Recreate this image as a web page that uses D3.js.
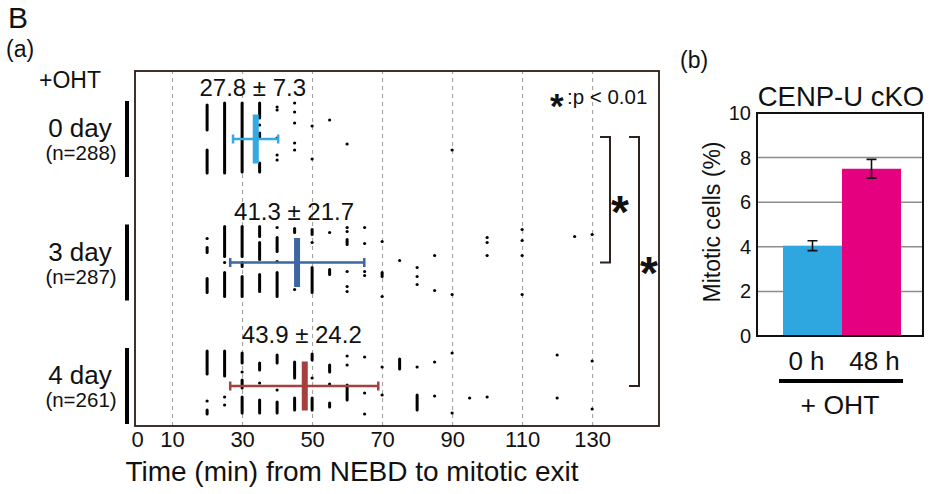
<!DOCTYPE html>
<html>
<head>
<meta charset="utf-8">
<script src="https://cdn.jsdelivr.net/npm/d3@7"></script>
<style>
  body { margin: 0; background: #fff; }
  svg text { font-family: "Liberation Sans", Arial, sans-serif; fill: #111; }
</style>
</head>
<body>
<div id="chart"></div>
<script>
// ---- data ----
var rows = ["0 day", "3 day", "4 day"];
var rowCounts = ["(n=288)", "(n=287)", "(n=261)"];
var statLabels = ["27.8 \u00b1 7.3", "41.3 \u00b1 21.7", "43.9 \u00b1 24.2"];
var meanTime = [33.9, 45.7, 47.9];
var lowTime = [27.4, 26.6, 26.6];
var highTime = [40.3, 64.9, 68.9];
var rowColors = ["#35a9e1", "#3e66a0", "#a5403f"];
var timeTicks = [0, 10, 30, 50, 70, 90, 110, 130];
var gridTimes = [10, 30, 50, 70, 90, 110, 130];

// stacks of overlapping dots: [time, offsetFrom, offsetTo]
var runs0 = [[20, -34, -9], [20, 11, 34], [25, -36, 34], [30, -36, 33],
  [35, -36, -21], [35, -6, -2], [35, 24, 33]];
var runs3 = [[20, -15, -10], [20, 16, 30], [25, -36, -6], [25, 10, 34], [30, -36, -6],
  [30, 0, 4], [30, 14, 34], [35, -36, -26], [35, -20, -3], [35, 12, 29], [40, -25, -11],
  [40, 10, 34], [45, -34, -30], [50, -33, -28], [50, 5, 30], [55, 7, 12], [60, -23, -18],
  [70, 10, 14]];
var runs4 = [[20, -35, -12], [20, 24, 28], [25, -35, -10], [30, -33, -23], [30, -6, 2],
  [30, 11, 27], [35, -23, -16], [35, 14, 27], [40, -31, -23], [40, 16, 27], [45, -24, -8],
  [45, 12, 24], [50, -32, -26], [50, 12, 24], [55, -21, -14], [55, 17, 21], [60, -1, 14],
  [75, -27, -17], [80, 9, 24]];
// single cells: [time, offset]
var dots0 = [[35, -14], [40, -32], [40, -29], [40, -1], [40, 16], [40, 21], [45, -36],
  [45, -27], [45, -16], [45, 4], [45, 11], [50, -13], [50, 20], [55, -19], [60, 5], [90, 11]];
var dots3 = [[20, -24], [25, 0], [40, -35], [40, -1], [45, 27], [50, -20], [55, -30],
  [60, -35], [60, -31], [60, 9], [60, 24], [60, 29], [65, -35], [65, -19], [65, 9], [65, 13],
  [70, -21], [70, 34], [75, -2], [80, 5], [80, 14], [80, 22], [85, -7], [85, 28], [90, 32],
  [100, -25], [100, -20], [100, -7], [110, -33], [110, -22], [110, -7], [110, 32],
  [125, -26], [130, -28]];
var dots4 = [[20, 15], [25, 11], [25, 19], [30, -14], [35, -3], [40, 4], [50, -8], [55, -2],
  [60, -30], [60, -21], [65, -29], [65, 7], [65, 28], [70, -19], [70, 9], [80, -19],
  [85, -24], [85, 10], [90, -33], [90, 27], [95, 12], [100, 11], [120, -31], [120, 12],
  [130, -25], [130, 23]];
var allRuns = [runs0, runs3, runs4];
var allDots = [dots0, dots3, dots4];

// panel (b)
var barGroups = ["0 h", "48 h"];
var barValues = [4.05, 7.5];
var barErrors = [0.22, 0.42];
var barColors = ["#2ea7e0", "#e4007e"];
var pctTicks = [0, 2, 4, 6, 8, 10];

var svg = d3.select("#chart").append("svg")
    .attr("width", 932)
    .attr("height", 494);

// ---- panel (a) ----
var x = d3.scaleLinear().domain([-0.6, 149.1]).range([135, 659]);
var yRow = d3.scalePoint().domain(rows).range([139, 386]);
var jitter = d3.scaleLinear().domain([-36, 36]).range([-36, 36]);
var plotTop = 71, plotBottom = 426;

svg.append("text").attr("x", 8).attr("y", 28).style("font-size", "30px").text("B");
svg.append("text").attr("x", 6).attr("y", 57).style("font-size", "23px").text("(a)");
svg.append("text").attr("x", 39).attr("y", 88).style("font-size", "23px").text("+OHT");

// gridlines
svg.append("g")
    .attr("transform", "translate(0," + plotBottom + ")")
    .call(d3.axisBottom(x).tickValues(gridTimes).tickSize(-(plotBottom - plotTop)).tickFormat(""))
    .call(function (g) { g.select(".domain").remove(); })
    .selectAll("line")
    .attr("stroke", "#9a9a9a")
    .attr("stroke-dasharray", "4,4");

// tick labels
svg.append("g")
    .attr("transform", "translate(0," + plotBottom + ")")
    .call(d3.axisBottom(x).tickValues(timeTicks).tickSize(0).tickPadding(5))
    .call(function (g) { g.select(".domain").remove(); })
    .selectAll("text")
    .style("font-size", "22px")
    .attr("fill", "#111");

svg.append("text")
    .attr("x", 352)
    .attr("y", 481)
    .style("text-anchor", "middle")
    .style("font-size", "28px")
    .text("Time (min) from NEBD to mitotic exit");

rows.forEach(function (r, i) {
    var cy = yRow(r);
    var g = svg.append("g");

    // row label + bar at left
    g.append("rect").attr("x", 125).attr("y", cy - 38).attr("width", 4).attr("height", 76).attr("fill", "#000");
    g.append("text").attr("x", 80).attr("y", cy - 2).style("text-anchor", "middle")
        .style("font-size", "26px").text(r);
    g.append("text").attr("x", 81).attr("y", cy + 21).style("text-anchor", "middle")
        .style("font-size", "20.5px").text(rowCounts[i]);

    // cells
    g.selectAll(".run")
        .data(allRuns[i])
        .enter().append("line")
        .attr("x1", function (d) { return x(d[0]); })
        .attr("x2", function (d) { return x(d[0]); })
        .attr("y1", function (d) { return cy + jitter(d[1]); })
        .attr("y2", function (d) { return cy + jitter(d[2]); })
        .attr("stroke", "#000")
        .attr("stroke-width", 3)
        .attr("stroke-linecap", "round");

    g.selectAll(".dot")
        .data(allDots[i])
        .enter().append("circle")
        .attr("cx", function (d) { return x(d[0]); })
        .attr("cy", function (d) { return cy + jitter(d[1]); })
        .attr("r", 1.6)
        .attr("fill", "#000");

    // mean and SD
    g.append("line")
        .attr("x1", x(lowTime[i])).attr("x2", x(highTime[i]))
        .attr("y1", cy).attr("y2", cy)
        .attr("stroke", rowColors[i]).attr("stroke-width", 2.5);
    [lowTime[i], highTime[i]].forEach(function (t) {
        g.append("line")
            .attr("x1", x(t)).attr("x2", x(t))
            .attr("y1", cy - 4.5).attr("y2", cy + 4.5)
            .attr("stroke", rowColors[i]).attr("stroke-width", 2.5);
    });
    g.append("rect")
        .attr("x", x(meanTime[i]) - 3)
        .attr("y", cy - 24.5)
        .attr("width", 6)
        .attr("height", 49)
        .attr("fill", rowColors[i]);

    g.append("text")
        .attr("x", x(meanTime[i]) - 3)
        .attr("y", cy - 43)
        .style("text-anchor", "middle")
        .style("font-size", "24px")
        .text(statLabels[i]);
});

// frame
svg.append("rect")
    .attr("x", 135).attr("y", plotTop)
    .attr("width", 524).attr("height", plotBottom - plotTop)
    .attr("fill", "none")
    .attr("stroke", "#2a1c14")
    .attr("stroke-width", 1.8);

// significance
svg.append("text").attr("x", 550).attr("y", 118).style("font-size", "35px").style("font-weight", "bold").text("*");
svg.append("text").attr("x", 567).attr("y", 104).style("font-size", "20.5px").text(":p < 0.01");

function bracket(r1, r2, xr) {
    var y1 = yRow(r1) - 2, y2 = yRow(r2);
    svg.append("path")
        .attr("d", "M" + (xr - 10) + "," + y1 + "H" + xr + "V" + y2 + "H" + (xr - 10))
        .attr("fill", "none")
        .attr("stroke", "#2e221c")
        .attr("stroke-width", 2);
}
bracket("0 day", "3 day", 610);
bracket("0 day", "4 day", 639);
svg.append("text").attr("x", 620).attr("y", 228).style("text-anchor", "middle")
    .style("font-size", "46px").style("font-weight", "bold").text("*");
svg.append("text").attr("x", 649).attr("y", 289).style("text-anchor", "middle")
    .style("font-size", "46px").style("font-weight", "bold").text("*");

// ---- panel (b) ----
var yPct = d3.scaleLinear().domain([0, 10]).range([336, 113]);
var xBar = d3.scaleBand().domain(barGroups).range([783, 901]).padding(0);
var bLeft = 757, bRight = 923;

svg.append("text").attr("x", 680).attr("y", 68).style("font-size", "23px").text("(b)");
svg.append("text").attr("x", 841).attr("y", 106).style("text-anchor", "middle")
    .style("font-size", "27.5px").text("CENP-U cKO");

svg.append("g")
    .selectAll("line")
    .data(pctTicks.filter(function (d) { return d > 0 && d < 10; }))
    .enter().append("line")
    .attr("x1", bLeft).attr("x2", bRight)
    .attr("y1", function (d) { return yPct(d); })
    .attr("y2", function (d) { return yPct(d); })
    .attr("stroke", "#8c8c8c")
    .attr("stroke-width", 1.5);

svg.append("g")
    .attr("transform", "translate(" + bLeft + ",0)")
    .call(d3.axisLeft(yPct).tickValues(pctTicks).tickSize(0).tickPadding(6))
    .call(function (g) { g.select(".domain").remove(); })
    .selectAll("text")
    .style("font-size", "20px")
    .attr("fill", "#111");

svg.selectAll(".bar")
    .data(barGroups)
    .enter().append("rect")
    .attr("x", function (d) { return xBar(d); })
    .attr("y", function (d, i) { return yPct(barValues[i]); })
    .attr("width", xBar.bandwidth())
    .attr("height", function (d, i) { return yPct(0) - yPct(barValues[i]); })
    .attr("fill", function (d, i) { return barColors[i]; });

barGroups.forEach(function (d, i) {
    var cx = xBar(d) + xBar.bandwidth() / 2;
    var top = yPct(barValues[i] + barErrors[i]), bot = yPct(barValues[i] - barErrors[i]);
    svg.append("path")
        .attr("d", "M" + (cx - 5) + "," + top + "H" + (cx + 5) + "M" + cx + "," + top + "V" + bot +
            "M" + (cx - 5) + "," + bot + "H" + (cx + 5))
        .attr("fill", "none")
        .attr("stroke", "#111")
        .attr("stroke-width", 1.6);
});

svg.append("rect")
    .attr("x", bLeft).attr("y", 113)
    .attr("width", bRight - bLeft).attr("height", 223)
    .attr("fill", "none")
    .attr("stroke", "#111")
    .attr("stroke-width", 2);

svg.append("text")
    .attr("transform", "translate(720,222) rotate(-90)")
    .style("text-anchor", "middle")
    .style("font-size", "23px")
    .text("Mitotic cells (%)");

barGroups.forEach(function (d, i) {
    svg.append("text")
        .attr("x", xBar(d) + xBar.bandwidth() / 2 + (i === 0 ? -6 : 3))
        .attr("y", 370)
        .style("text-anchor", "middle")
        .style("font-size", "26px")
        .text(d);
});
svg.append("rect").attr("x", 779).attr("y", 379).attr("width", 124).attr("height", 4).attr("fill", "#000");
svg.append("text").attr("x", 840).attr("y", 414).style("text-anchor", "middle")
    .style("font-size", "26.5px").text("+ OHT");
</script>
</body>
</html>
